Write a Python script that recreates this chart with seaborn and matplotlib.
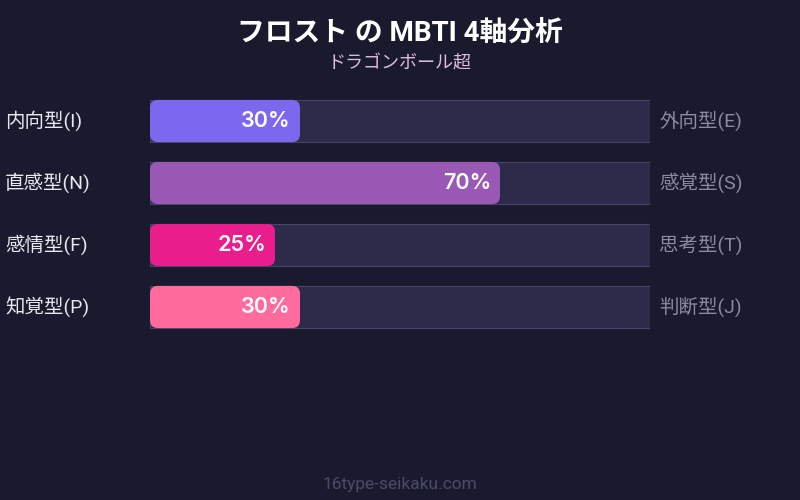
import numpy as np
import pandas as pd
import seaborn as sns
import matplotlib.pyplot as plt
from matplotlib.patches import FancyBboxPatch

# データ
left_labels = ["内向型(I)", "直感型(N)", "感情型(F)", "知覚型(P)"]
right_labels = ["外向型(E)", "感覚型(S)", "思考型(T)", "判断型(J)"]
values = [30, 70, 25, 30]
colors = ["#7b68ee", "#9b59b6", "#e91e8c", "#ff6b9d"]
title = "フロスト の MBTI 4軸分析"
subtitle = "ドラゴンボール超"
footer = "16type-seikaku.com"

bg = "#1a1a2e"
track = "#2d2b4a"

sns.set_theme(style="white")
plt.rcParams["font.family"] = ["Roboto", "Noto Sans CJK JP", "DejaVu Sans"]

df = pd.DataFrame({"axis": left_labels, "value": values, "full": [100] * len(values)})

fig = plt.figure(figsize=(8, 5), dpi=100)
fig.patch.set_facecolor(bg)
ax = fig.add_axes([150 / 800, 1 - 338 / 500, 500 / 800, 248 / 500])
ax.set_facecolor(bg)

# 背景トラック
sns.barplot(data=df, x="full", y="axis", orient="h", color=track, width=0.68,
            saturation=1, edgecolor="#45456a", linewidth=0.8, ax=ax)
n_track = len(ax.patches)
# 値のバー
sns.barplot(data=df, x="value", y="axis", orient="h", hue="axis", palette=colors,
            saturation=1, legend=False, width=0.68, ax=ax)

# 値のバーを角丸に置き換え
for p in list(ax.patches[n_track:]):
    x0, y0 = p.get_x(), p.get_y()
    w, h = p.get_width(), p.get_height()
    fc = p.get_facecolor()
    p.remove()
    rb = FancyBboxPatch((x0, y0), w, h, boxstyle="round,pad=0,rounding_size=1.6",
                        mutation_aspect=0.08, facecolor=fc, edgecolor="none", zorder=3)
    ax.add_patch(rb)

ax.set_xlim(0, 100)
ax.set_ylim(3.5, -0.5)
ax.set_xlabel("")
ax.set_ylabel("")
ax.set_xticks([])
ax.set_yticks([])
for s in ax.spines.values():
    s.set_visible(False)

for i, (v, ll, rl) in enumerate(zip(values, left_labels, right_labels)):
    ax.text(v - 1.8, i, f"{v}%", ha="right", va="center", color="white",
            fontsize=15.5, fontweight="semibold", family=["Inter", "DejaVu Sans"],
            zorder=4)
    fig.text(5 / 800, 1 - (121 + 62 * i) / 500, ll, ha="left", va="center",
             color="#e8e8f0", fontsize=14)
    fig.text(659 / 800, 1 - (121 + 62 * i) / 500, rl, ha="left", va="center",
             color="#8a8aa2", fontsize=14)

fig.text(0.5, 1 - 33 / 500, title, ha="center", va="center", color="white",
         fontsize=20, fontweight="bold")
fig.text(0.5, 1 - 64 / 500, subtitle, ha="center", va="center", color="#dcbce0",
         fontsize=13)
fig.text(0.5, 1 - 485 / 500, footer, ha="center", va="center", color="#4a4a6a",
         fontsize=12.5)

fig.savefig("out.png", dpi=100, facecolor=bg)
